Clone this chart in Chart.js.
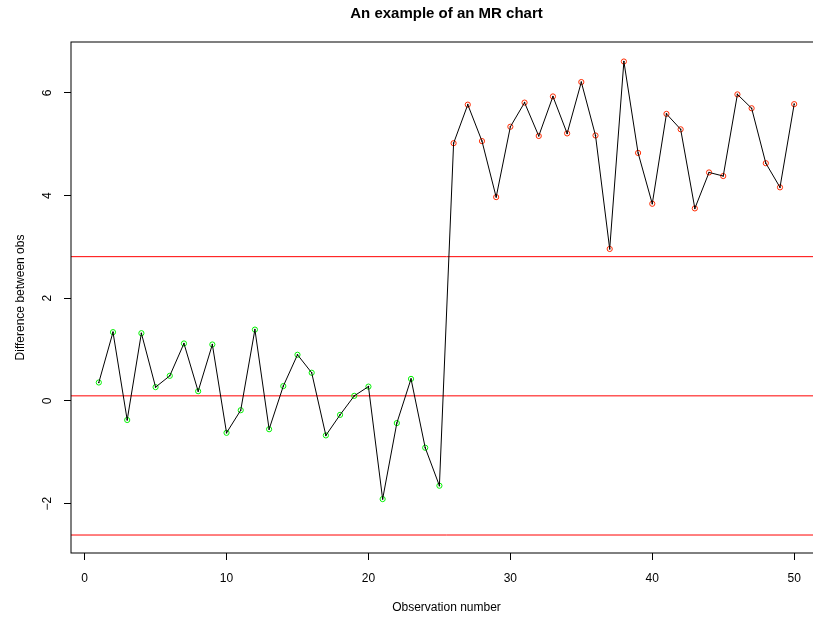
<!DOCTYPE html>
<html>
<head>
<meta charset="utf-8">
<title>An example of an MR chart</title>
<script src="https://cdn.jsdelivr.net/npm/chart.js@4/dist/chart.umd.min.js"></script>
<style>
    html, body { margin: 0; padding: 0; overflow: hidden; background: #ffffff; }
</style>
</head>
<body>
<canvas id="mr-chart" width="893" height="619"></canvas>
<script>
// observation numbers
const obsBefore = [1, 2, 3, 4, 5, 6, 7, 8, 9, 10, 11, 12, 13, 14, 15, 16, 17, 18, 19, 20, 21, 22, 23, 24, 25];
const obsAfter = [26, 27, 28, 29, 30, 31, 32, 33, 34, 35, 36, 37, 38, 39, 40, 41, 42, 43, 44, 45, 46, 47, 48, 49, 50];

// differences between obs, before and after the shift
const valuesBefore = [0.36, 1.34, -0.37, 1.32, 0.27, 0.49, 1.12, 0.19, 1.10, -0.62,
    -0.18, 1.39, -0.55, 0.29, 0.90, 0.55, -0.67, -0.27, 0.10, 0.28,
    -1.91, -0.43, 0.43, -0.91, -1.65];
const valuesAfter = [5.02, 5.77, 5.06, 3.97, 5.34, 5.81, 5.16, 5.93, 5.21, 6.21,
    5.17, 2.96, 6.61, 4.83, 3.84, 5.59, 5.29, 3.75, 4.45, 4.38,
    5.97, 5.70, 4.63, 4.16, 5.78];

// upper limit, centre line, lower limit
const controlLimits = [2.81, 0.10, -2.61];

const xLimits = [-0.96, 51.96];
const yLimits = [-2.96, 6.99];
const yTickLabels = ["\u22122", "0", "2", "4", "6"];

const fontFamily = "'Liberation Sans', Arial, Helvetica, sans-serif";

function toPoints(xs, ys) {
    return xs.map((x, i) => ({ x: x, y: ys[i] }));
}

const allPoints = toPoints(obsBefore.concat(obsAfter), valuesBefore.concat(valuesAfter));

const limitSets = controlLimits.map(v => ({
    data: [{ x: xLimits[0], y: v }, { x: xLimits[1], y: v }],
    borderColor: "#ff0000",
    borderWidth: 1,
    pointRadius: 0,
    fill: false
}));

// draws the box and the rotated y tick labels, like base R does
const framePlugin = {
    id: "frame",
    afterDraw(chart) {
        const ctx = chart.ctx;
        const a = chart.chartArea;
        const y = chart.scales.y;
        ctx.save();
        ctx.strokeStyle = "#000000";
        ctx.lineWidth = 1;
        ctx.strokeRect(a.left, a.top, a.right - a.left, a.bottom - a.top);

        ctx.fillStyle = "#000000";
        ctx.font = "12px " + fontFamily;
        ctx.textAlign = "center";
        ctx.textBaseline = "middle";
        y.ticks.forEach((t, i) => {
            const py = y.getPixelForValue(t.value);
            ctx.save();
            ctx.translate(48, py);
            ctx.rotate(-Math.PI / 2);
            ctx.fillText(yTickLabels[i], 0, 0);
            ctx.restore();
        });
        ctx.restore();
    }
};

new Chart(document.getElementById("mr-chart").getContext("2d"), {
    type: "line",
    data: {
        datasets: [
            {
                data: allPoints,
                borderColor: "#000000",
                borderWidth: 1,
                pointRadius: 0.8,
                pointBackgroundColor: "#000000",
                pointBorderWidth: 0,
                tension: 0,
                fill: false
            },
            {
                type: "scatter",
                data: toPoints(obsBefore, valuesBefore),
                pointRadius: 2.6,
                pointBorderWidth: 1,
                pointBorderColor: "#00f000",
                pointBackgroundColor: "rgba(0,0,0,0)"
            },
            {
                type: "scatter",
                data: toPoints(obsAfter, valuesAfter),
                pointRadius: 2.6,
                pointBorderWidth: 1,
                pointBorderColor: "#ff2a00",
                pointBackgroundColor: "rgba(0,0,0,0)"
            },
            ...limitSets
        ]
    },
    options: {
        responsive: false,
        animation: false,
        layout: { padding: { left: 0, right: 71, top: 0, bottom: 0 } },
        plugins: {
            legend: { display: false },
            tooltip: { enabled: false },
            title: {
                display: true,
                fullSize: false,
                text: "An example of an MR chart",
                color: "#000000",
                font: { family: fontFamily, size: 15, weight: "bold" },
                padding: { top: 5, bottom: 19 }
            }
        },
        scales: {
            x: {
                type: "linear",
                min: xLimits[0],
                max: xLimits[1],
                border: { display: false },
                grid: { drawOnChartArea: false, drawTicks: true, tickLength: 7, color: "#000000" },
                ticks: {
                    stepSize: 10,
                    includeBounds: false,
                    padding: 11,
                    maxRotation: 0,
                    color: "#000000",
                    font: { family: fontFamily, size: 12 }
                },
                title: {
                    display: true,
                    text: "Observation number",
                    color: "#000000",
                    font: { family: fontFamily, size: 12 },
                    padding: { top: 0, bottom: 4 }
                },
                afterFit(scale) { scale.height = 66; }
            },
            y: {
                type: "linear",
                min: yLimits[0],
                max: yLimits[1],
                border: { display: false },
                grid: { drawOnChartArea: false, drawTicks: true, tickLength: 7, color: "#000000" },
                ticks: {
                    stepSize: 2,
                    includeBounds: false,
                    display: false
                },
                title: {
                    display: true,
                    text: "Difference between obs",
                    color: "#000000",
                    font: { family: fontFamily, size: 12 },
                    padding: { top: 13, bottom: 0 }
                },
                afterFit(scale) { scale.width = 71; }
            }
        }
    },
    plugins: [framePlugin]
});
</script>
</body>
</html>
